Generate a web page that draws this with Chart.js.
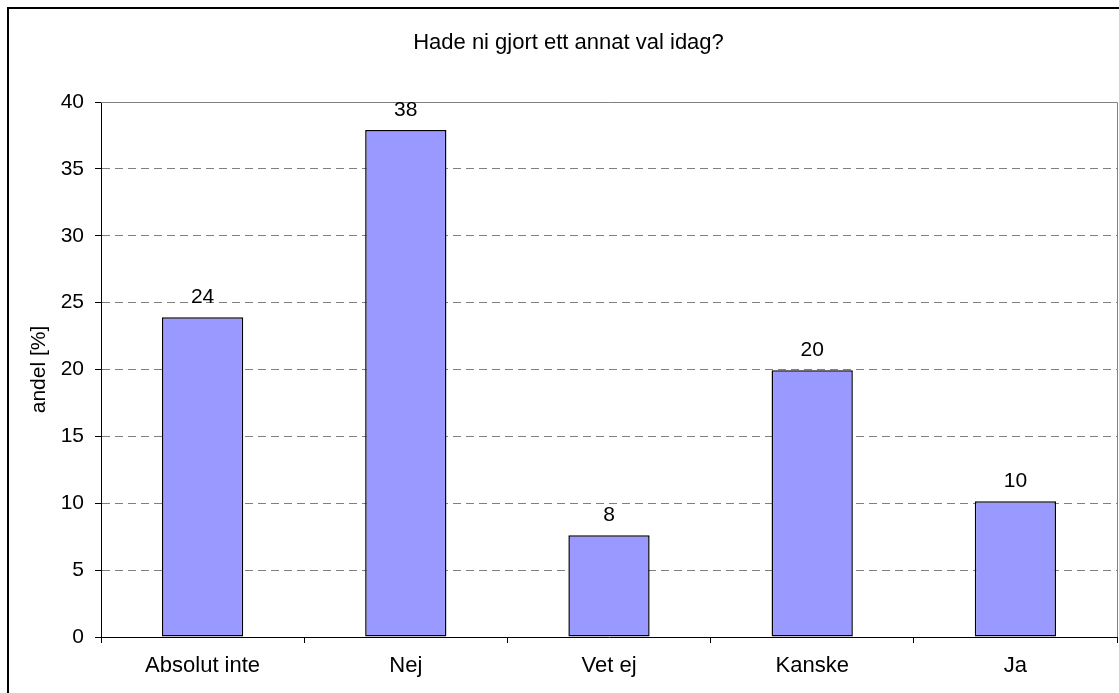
<!DOCTYPE html>
<html>
<head>
<meta charset="utf-8">
<title>Hade ni gjort ett annat val idag?</title>
<script src="https://cdn.jsdelivr.net/npm/chart.js@4/dist/chart.umd.min.js"></script>
<style>
  html, body { margin: 0; padding: 0; background: #fff; }
  canvas { display: block; }
</style>
</head>
<body>
<canvas id="valChart" width="1119" height="693"></canvas>
<script>
/* Survey bar chart: Hade ni gjort ett annat val idag? */
var categories = ['Absolut inte', 'Nej', 'Vet ej', 'Kanske', 'Ja'];
var shares = [23.9, 37.9, 7.6, 19.95, 10.15];
var yTicks = [0, 5, 10, 15, 20, 25, 30, 35, 40];

(function () {
  'use strict';

  var FONT = '"Liberation Sans", Arial, sans-serif';
  var SIZE = 21;

  // outer frame + gray plot border on top and right
  var framePlugin = {
    id: 'frame',
    beforeDraw: function (chart) {
      var c = chart.ctx;
      c.save();
      c.fillStyle = '#fff';
      c.fillRect(0, 0, chart.width, chart.height);
      c.restore();
    },
    beforeDatasetsDraw: function (chart) {
      var c = chart.ctx, a = chart.chartArea;
      c.save();
      c.strokeStyle = '#808080';
      c.lineWidth = 1;
      c.beginPath();
      c.moveTo(a.left, a.top + 0.5);
      c.lineTo(a.right + 0.5, a.top + 0.5);
      c.lineTo(a.right + 0.5, a.bottom);
      c.stroke();
      c.restore();
    },
    afterDraw: function (chart) {
      var c = chart.ctx;
      c.save();
      c.strokeStyle = '#000';
      c.lineWidth = 2;
      c.strokeRect(8, 8, chart.width + 50, chart.height + 50);
      c.restore();
    }
  };

  // value labels above bars
  var valueLabels = {
    id: 'valueLabels',
    afterDatasetsDraw: function (chart) {
      var c = chart.ctx;
      var meta = chart.getDatasetMeta(0);
      c.save();
      c.font = SIZE + 'px ' + FONT;
      c.fillStyle = '#000';
      c.textAlign = 'center';
      c.textBaseline = 'alphabetic';
      meta.data.forEach(function (bar, i) {
        c.fillText(String(Math.round(shares[i])), bar.x, bar.y - 14);
      });
      c.restore();
    }
  };

  new Chart(document.getElementById('valChart'), {
    type: 'bar',
    data: {
      labels: categories,
      datasets: [{
        data: shares,
        backgroundColor: '#9999ff',
        borderColor: '#000',
        borderWidth: 1.5,
        borderSkipped: false,
        categoryPercentage: 1,
        barPercentage: 0.4
      }]
    },
    options: {
      responsive: false,
      animation: false,
      layout: { padding: { left: 20, right: 2, top: 0, bottom: 0 } },
      plugins: {
        legend: { display: false },
        tooltip: { enabled: false },
        title: {
          display: true,
          text: 'Hade ni gjort ett annat val idag?',
          color: '#000',
          font: { family: FONT, size: 22, weight: 'normal' },
          padding: { top: 29.8, bottom: 45.8 }
        }
      },
      scales: {
        x: {
          offset: true,
          grid: {
            display: true,
            offset: true,
            drawOnChartArea: false,
            tickLength: 6,
            tickColor: '#000'
          },
          border: { display: true, color: '#000', width: 1 },
          ticks: { color: '#000', padding: 10, font: { family: FONT, size: 22 } },
          afterFit: function (s) { s.height = 56; }
        },
        y: {
          min: 0,
          max: 40,
          afterBuildTicks: function (s) {
            s.ticks = yTicks.map(function (v) { return { value: v }; });
          },
          grid: {
            color: function (ctx) {
              var v = ctx.tick && ctx.tick.value;
              return (v === 0 || v === 40) ? 'rgba(0,0,0,0)' : '#808080';
            },
            lineWidth: 1,
            tickLength: 6,
            tickColor: '#000',
            tickBorderDash: []
          },
          border: { display: true, color: '#000', width: 1, dash: [8, 5] },
          ticks: { color: '#000', padding: 11, font: { family: FONT, size: SIZE } },
          title: {
            display: true,
            text: 'andel [%]',
            color: '#000',
            font: { family: FONT, size: SIZE },
            padding: { top: 6.5, bottom: 0 }
          },
          afterFit: function (s) { s.width = 81; }
        }
      }
    },
    plugins: [framePlugin, valueLabels]
  });
})();
</script>
</body>
</html>
